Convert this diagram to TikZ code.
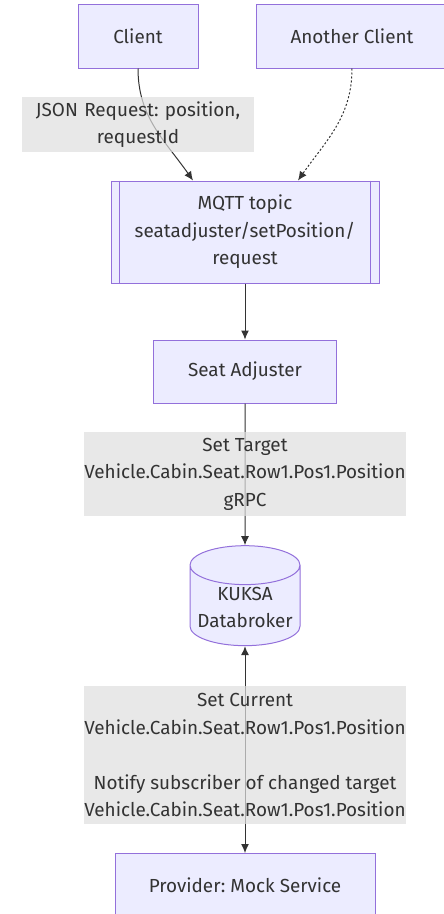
\documentclass[tikz,border=0pt]{standalone}
\usepackage{fontspec}
\setmainfont{Fira Sans}
\usepackage{tikz}
\usetikzlibrary{arrows.meta,shapes.geometric}

\definecolor{boxfill}{HTML}{ECECFF}
\definecolor{boxline}{HTML}{9370DB}
\definecolor{ink}{HTML}{333333}
\definecolor{labelbg}{HTML}{DEDEDE}
\frenchspacing

\begin{document}
\begin{tikzpicture}[->,
            >={Latex[length=9pt,width=8pt]},
            x=1pt, y=-1pt,
            line width=1pt,
            draw=ink,
            every node/.style={font=\fontsize{18.9}{27.5}\selectfont, text=ink},
            block/.style={draw=boxline, fill=boxfill, align=center},
            edgelabel/.style={fill=labelbg, fill opacity=0.7, text opacity=1,
                              inner sep=0pt, align=center}]

        \useasboundingbox (0,0) rectangle (444,914);

        \node[block, minimum width=120, minimum height=64]  (client)   at (138,36)    {Client};
        \node[block, minimum width=192, minimum height=64]  (another)  at (352,36)    {Another Client};
        \node[block, minimum width=268, minimum height=102] (mqtt)     at (245,232)   {MQTT topic\\seatadjuster/setPosition/\\request};
        \node[block, minimum width=183, minimum height=63]  (adjuster) at (245,371.5) {Seat Adjuster};
        \node[block, cylinder, shape border rotate=90, aspect=0.4, inner sep=1pt,
              minimum width=110, minimum height=100]        (kuksa)    at (245,607.5) {KUKSA\\Databroker};
        \node[block, minimum width=260, minimum height=63]  (provider) at (245,885)   {Provider: Mock Service};

        % subroutine bars of the topic box
        \draw[-, boxline] ([xshift=9]mqtt.north west) -- ([xshift=9]mqtt.south west);
        \draw[-, boxline] ([xshift=-9]mqtt.north east) -- ([xshift=-9]mqtt.south east);

        \path (client.south)   edge [out=-90, in=125]                            ([xshift=-52]mqtt.north)
              (another.south)  edge [out=-90, in=55, dash pattern=on 2pt off 2pt] ([xshift=53]mqtt.north)
              (mqtt.south)     edge                                              (adjuster.north)
              (adjuster.south) edge                                              (kuksa.north)
              (provider.north) edge [<->]                                        (kuksa.south);

        \node[edgelabel, text width=232, minimum height=55] (jsonlbl)   at (138,124.5) {JSON Request: position,\\requestId};
        \node[edgelabel, minimum width=322, minimum height=84] (targetlbl) at (245,474) {Set Target\\Vehicle.Cabin.Seat.Row1.Pos1.Position\\gRPC};
        \node[edgelabel, minimum width=322, minimum height=138] (currentlbl) at (245,755)
            {Set Current\\Vehicle.Cabin.Seat.Row1.Pos1.Position\\\mbox{}\\Notify subscriber of changed target\\Vehicle.Cabin.Seat.Row1.Pos1.Position};

\end{tikzpicture}
\end{document}
